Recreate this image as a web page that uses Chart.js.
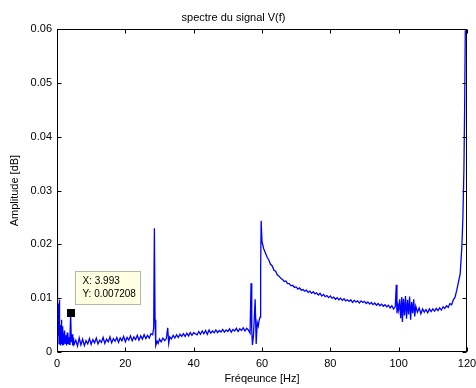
<!DOCTYPE html>
<html>
<head>
<meta charset="utf-8">
<script src="https://cdn.jsdelivr.net/npm/chart.js@4.4.0/dist/chart.umd.min.js"></script>
<style>
html, body { margin: 0; padding: 0; background: #fff; }
#wrap { width: 476px; height: 388px; }
</style>
</head>
<body>
<div id="wrap"><canvas id="spectre" width="476" height="388"></canvas></div>
<script>
// Spectrum values (Hz / amplitude)
const freqHz = [
  0.0, 0.1, 0.2, 0.3, 0.4, 0.5, 0.6, 0.7, 0.8, 0.9, 1.0, 1.1, 1.2, 1.3, 1.4, 1.5, 1.6, 1.7, 1.8, 1.9,
  2.0, 2.2, 2.4, 2.6, 2.8, 3.0, 3.2, 3.4, 3.6, 3.8, 3.993, 4.2, 4.4, 4.6, 4.8, 5.0,
  5.5, 6, 6.5, 7, 7.5, 8, 8.5, 9, 9.5, 10, 10.5, 11, 11.5, 12, 12.5, 13, 13.5, 14, 14.5, 15,
  15.5, 16, 16.5, 17, 17.5, 18, 18.5, 19, 19.5, 20, 20.5, 21, 21.5, 22, 22.5, 23, 23.5, 24,
  24.5, 25, 25.5, 26, 26.5, 27, 27.5, 28, 28.3, 28.5, 28.7, 28.9, 29.3, 29.6, 30, 30.5, 31,
  31.5, 32, 32.4, 32.7, 33, 33.5, 34, 34.5, 35, 35.5, 36, 36.5, 37, 37.5, 38, 38.5, 39, 39.5,
  40, 41, 41.5, 42, 42.5, 43, 43.5, 44, 44.5, 45, 45.5, 46, 46.5, 47, 47.5, 48, 48.5, 49, 49.5,
  50, 50.5, 51, 51.5, 52, 52.5, 53, 53.5, 54, 54.5, 55, 55.5, 56, 56.5, 56.8, 57.0, 57.2, 57.5,
  58.0, 58.3, 58.6, 58.9, 59.2, 59.45, 59.6, 59.75, 60.0, 60.5, 61.0, 61.5, 62.0, 62.5, 63.0,
  63.5, 64.0, 64.5, 65.0, 65.5, 66.0, 66.5, 67.0, 67.5, 68.0, 68.5, 69.0, 69.5, 70.0, 70.5,
  71.0, 71.5, 72.0, 72.5, 73.0, 73.5, 74.0, 74.5, 75.0, 75.5, 76.0, 76.5, 77.0, 77.5, 78.0,
  78.5, 79.0, 79.5, 80.0, 80.5, 81.0, 81.5, 82.0, 82.5, 83.0, 83.5, 84.0, 84.5, 85.0, 85.5,
  86.0, 86.5, 87.0, 87.5, 88.0, 88.5, 89.0, 89.5, 90.0, 90.5, 91.0, 91.5, 92.0, 92.5, 93.0,
  93.5, 94.0, 94.5, 95.0, 95.5, 96.0, 96.5, 97.0, 97.5, 98.0, 98.5, 99.0, 99.3, 99.5, 99.8,
  100.0, 100.3, 100.6, 100.9, 101.1, 101.4, 101.7, 102.0, 102.3, 102.6, 102.9, 103.2, 103.5,
  103.8, 104.1, 104.4, 104.7, 105.0, 105.5, 106.0, 106.5, 107.0, 107.5, 108.0, 108.5, 109.0,
  109.5, 110.0, 110.5, 111.0, 111.5, 112.0, 112.5, 113.0, 113.5, 114.0, 114.5, 115.0, 115.5,
  116.0, 116.5, 117.0, 117.5, 118.0, 118.5, 118.8, 119.1, 119.3, 119.5
];
const amplitude = [
  0.0199, 0.0120, 0.0040, 0.0090, 0.0030, 0.0065, 0.0015, 0.0097, 0.0020, 0.0050, 0.0012, 0.0045, 0.0020, 0.0060, 0.0015, 0.0038, 0.0012, 0.0048, 0.0020, 0.0035,
  0.0013, 0.0040, 0.0016, 0.0031, 0.0012, 0.0036, 0.0015, 0.0028, 0.0014, 0.0025, 0.007208, 0.0018, 0.0033, 0.0012, 0.0027, 0.0014,
  0.0022, 0.0011, 0.0026, 0.0013, 0.0024, 0.0012, 0.0021, 0.0015, 0.0025, 0.0014, 0.0023, 0.0017, 0.0026, 0.0015, 0.0022, 0.0018, 0.0027, 0.0016, 0.0024, 0.0019,
  0.0028, 0.0017, 0.0025, 0.0020, 0.0027, 0.0018, 0.0026, 0.0021, 0.0029, 0.0019, 0.0027, 0.0022, 0.0030, 0.0021, 0.0028, 0.0023, 0.0031, 0.0022,
  0.0030, 0.0024, 0.0032, 0.0025, 0.0031, 0.0026, 0.0034, 0.0032, 0.0045, 0.0230, 0.0060, 0.0012, 0.0020, 0.0016, 0.0024, 0.0019, 0.0026,
  0.0021, 0.0025, 0.0045, 0.0016, 0.0028, 0.0024, 0.0031, 0.0026, 0.0032, 0.0027, 0.0033, 0.0029, 0.0034, 0.0029, 0.0035, 0.0030, 0.0036, 0.0031,
  0.0036, 0.0032, 0.0038, 0.0033, 0.0039, 0.0034, 0.0040, 0.0033, 0.0041, 0.0035, 0.0039, 0.0036, 0.0041, 0.0036, 0.0040, 0.0037, 0.0042, 0.0037, 0.0041,
  0.0038, 0.0043, 0.0037, 0.0042, 0.0039, 0.0044, 0.0038, 0.0043, 0.0040, 0.0045, 0.0039, 0.0044, 0.0041, 0.0035, 0.0128, 0.0040, 0.0013, 0.0030,
  0.0098, 0.0015, 0.0055, 0.0048, 0.0060, 0.0065, 0.0150, 0.0244, 0.0205, 0.0192, 0.0184, 0.0176, 0.0171, 0.0163, 0.0160,
  0.0152, 0.0150, 0.0143, 0.0141, 0.0137, 0.0135, 0.0131, 0.0132, 0.0127, 0.0127, 0.0123, 0.0124, 0.0120, 0.0121, 0.0117,
  0.0119, 0.0115, 0.0116, 0.0113, 0.0115, 0.0111, 0.0113, 0.0109, 0.0112, 0.0108, 0.0110, 0.0106, 0.0109, 0.0104, 0.0107,
  0.0103, 0.0105, 0.0101, 0.0104, 0.0100, 0.0102, 0.0098, 0.0101, 0.0097, 0.0100, 0.0096, 0.0099, 0.0095, 0.0097, 0.0094,
  0.0097, 0.0092, 0.0096, 0.0093, 0.0095, 0.0091, 0.0095, 0.0092, 0.0094, 0.0090, 0.0093, 0.0089, 0.0092, 0.0088, 0.0091,
  0.0087, 0.0090, 0.0086, 0.0089, 0.0085, 0.0088, 0.0084, 0.0087, 0.0082, 0.0086, 0.0080, 0.0084, 0.0125, 0.0072, 0.0086,
  0.0078, 0.0098, 0.0063, 0.0102, 0.0056, 0.0099, 0.0068, 0.0104, 0.0062, 0.0097, 0.0070, 0.0103, 0.0060,
  0.0093, 0.0072, 0.0098, 0.0066, 0.0085, 0.0074, 0.0082, 0.0071, 0.0080, 0.0074, 0.0079, 0.0073, 0.0080,
  0.0075, 0.0080, 0.0076, 0.0081, 0.0077, 0.0082, 0.0078, 0.0084, 0.0081, 0.0086, 0.0083, 0.0090, 0.0088,
  0.0097, 0.0102, 0.0115, 0.0130, 0.0145, 0.0196, 0.0250, 0.0340, 0.0450, 0.0598
];
const xTicks = [0, 20, 40, 60, 80, 100, 120];
const yTicks = [0, 0.01, 0.02, 0.03, 0.04, 0.05, 0.06];
const yLabels = ['0', '0.01', '0.02', '0.03', '0.04', '0.05', '0.06'];
const tipX = 3.993;
const tipY = 0.007208;

const FONT = '"Liberation Sans", Arial, sans-serif';

// MATLAB-like box with inward ticks on all four sides, plus the data tip
const matlabBox = {
  id: 'matlabBox',
  afterDatasetsDraw(chart) {
    const { ctx, chartArea: a, scales: { x, y } } = chart;
    const L = Math.round(a.left) + 0.5, R = Math.round(a.right) - 0.5;
    const T = Math.round(a.top) + 0.5, B = Math.round(a.bottom) - 0.5;
    ctx.save();
    ctx.strokeStyle = '#000';
    ctx.lineWidth = 1;
    ctx.strokeRect(L, T, R - L, B - T);
    ctx.beginPath();
    xTicks.forEach(v => {
      const px = Math.round(x.getPixelForValue(v)) + 0.5;
      ctx.moveTo(px, B); ctx.lineTo(px, B - 4);
      ctx.moveTo(px, T); ctx.lineTo(px, T + 4);
    });
    yTicks.forEach(v => {
      const py = Math.round(y.getPixelForValue(v)) + 0.5;
      ctx.moveTo(L, py); ctx.lineTo(L + 4, py);
      ctx.moveTo(R, py); ctx.lineTo(R - 4, py);
    });
    ctx.stroke();

    // data tip
    const px = x.getPixelForValue(tipX);
    const py = y.getPixelForValue(tipY);
    ctx.fillStyle = '#000';
    ctx.fillRect(Math.round(px) - 4, Math.round(py) - 4, 8, 8);
    const bx = Math.round(px) + 4.5, by = Math.round(py) - 41.5;
    ctx.fillStyle = '#ffffe1';
    ctx.fillRect(bx, by, 65, 33);
    ctx.strokeStyle = '#b8b8a8';
    ctx.strokeRect(bx, by, 65, 33);
    ctx.fillStyle = '#000';
    ctx.font = '10px ' + FONT;
    ctx.textBaseline = 'middle';
    ctx.textAlign = 'left';
    ctx.fillText('X: ' + tipX, bx + 7, by + 10);
    ctx.fillText('Y: ' + tipY, bx + 7, by + 23);
    ctx.restore();
  }
};

const points = freqHz.map((f, i) => ({ x: f, y: amplitude[i] }));

new Chart(document.getElementById('spectre'), {
  type: 'scatter',
  data: {
    datasets: [{
      data: points,
      showLine: true,
      borderColor: '#0000ff',
      borderWidth: 1.3,
      pointRadius: 0,
      tension: 0
    }]
  },
  options: {
    responsive: false,
    animation: false,
    layout: { padding: { left: 0, right: 9, top: 0, bottom: 0 } },
    plugins: {
      legend: { display: false },
      tooltip: { enabled: false },
      title: {
        display: true,
        text: 'spectre du signal V(f)',
        color: '#000',
        font: { family: FONT, size: 11, weight: 'normal' },
        padding: { top: 11, bottom: 5 }
      }
    },
    scales: {
      x: {
        type: 'linear',
        min: 0,
        max: 120,
        grid: { display: false, drawTicks: false },
        border: { display: false },
        afterBuildTicks: s => { s.ticks = xTicks.map(v => ({ value: v })); },
        afterFit: s => { s.height = 36; s.paddingLeft = 0; s.paddingRight = 0; },
        ticks: { color: '#000', padding: 5, maxRotation: 0, font: { family: FONT, size: 11 } },
        title: {
          display: true,
          text: 'Fréqeunce [Hz]',
          color: '#000',
          font: { family: FONT, size: 11 },
          padding: { top: 0, bottom: 2 }
        }
      },
      y: {
        type: 'linear',
        min: 0,
        max: 0.06,
        grid: { display: false, drawTicks: false },
        border: { display: false },
        afterBuildTicks: s => { s.ticks = yTicks.map(v => ({ value: v })); },
        afterFit: s => { s.width = 57; s.paddingTop = 0; s.paddingBottom = 0; },
        ticks: {
          color: '#000',
          padding: 5,
          font: { family: FONT, size: 11 },
          callback: (v, i) => yLabels[i]
        },
        title: {
          display: true,
          text: 'Amplitude [dB]',
          color: '#000',
          font: { family: FONT, size: 11 },
          padding: { top: 8, bottom: 0 }
        }
      }
    }
  },
  plugins: [matlabBox]
});
</script>
</body>
</html>
